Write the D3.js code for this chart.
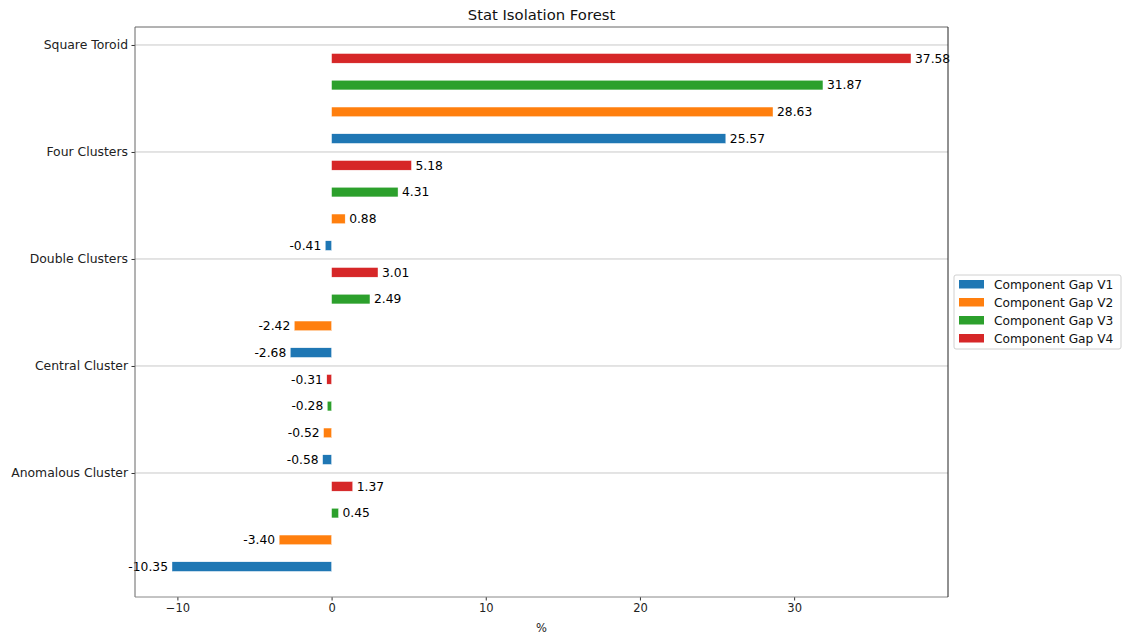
<!DOCTYPE html>
<html><head><meta charset="utf-8">
<script src="https://cdn.jsdelivr.net/npm/d3@7"></script>
<style>body{margin:0;background:#fff;font-family:"DejaVu Sans",sans-serif;}</style>
</head><body><svg id="c" width="1123" height="636"></svg>
<script>
const categories = ["Anomalous Cluster","Central Cluster","Double Clusters","Four Clusters","Square Toroid"];
const seriesNames = ["Component Gap V1","Component Gap V2","Component Gap V3","Component Gap V4"];
const v1 = [-10.35,-0.58,-2.68,-0.41,25.57];
const v2 = [-3.40,-0.52,-2.42,0.88,28.63];
const v3 = [0.45,-0.28,2.49,4.31,31.87];
const v4 = [1.37,-0.31,3.01,5.18,37.58];
const colors = ["#1f77b4","#ff7f0e","#2ca02c","#d62728"];
const xTicks = [-10,0,10,20,30];
const series = [v1,v2,v3,v4];
const offsets = [-0.875,-0.625,-0.375,-0.125];

const svg = d3.select("#c");
const L=135,R=948,T=27,B=597;
const x = d3.scaleLinear().domain([-12.75,39.98]).range([L,R]);
const y = d3.scaleLinear().domain([-1.159,4.168]).range([B,T]);
const barH = 0.09;

// grid
svg.append("g").selectAll("line").data(categories).join("line")
  .attr("x1",L).attr("x2",R).attr("y1",(d,i)=>y(i)).attr("y2",(d,i)=>y(i))
  .attr("stroke","#c8c8c8").attr("stroke-width",1);

// bars
series.forEach((s,k)=>{
  const g = svg.append("g");
  g.selectAll("rect").data(s).join("rect")
    .attr("x",d=>x(Math.min(0,d))).attr("width",d=>Math.abs(x(d)-x(0)))
    .attr("y",(d,i)=>y(i+offsets[k]+barH/2)).attr("height",y(0)-y(barH))
    .attr("fill",colors[k]).attr("stroke","#fff").attr("stroke-width",0.4);
  g.selectAll("text").data(s).join("text")
    .attr("x",d=>d>=0? x(d)+4 : x(d)-4)
    .attr("y",(d,i)=>y(i+offsets[k]))
    .attr("dy","0.35em")
    .attr("text-anchor",d=>d>=0?"start":"end")
    .attr("font-size",12.3).attr("fill","#000")
    .text(d=>d.toFixed(2));
});

// axes
const xa = svg.append("g").attr("transform",`translate(0,${B})`)
  .call(d3.axisBottom(x).tickValues(xTicks).tickSize(3.5).tickPadding(3.5).tickFormat(d=>d<0?"\u2212"+Math.abs(d):d));
xa.select(".domain").remove();
xa.selectAll("line").attr("stroke","#333");
xa.selectAll("text").attr("font-size",11.5).attr("fill","#222").attr("font-family","DejaVu Sans");

const ya = svg.append("g").attr("transform",`translate(${L},0)`)
  .call(d3.axisLeft(y).tickValues(d3.range(categories.length)).tickSize(3.5).tickPadding(3.5).tickFormat(i=>categories[i]));
ya.select(".domain").remove();
ya.selectAll("line").attr("stroke","#333");
ya.selectAll("text").attr("font-size",12.4).attr("fill","#222").attr("font-family","DejaVu Sans");

// spines
svg.append("line").attr("x1",L).attr("x2",R).attr("y1",T).attr("y2",T).attr("stroke","#666");
svg.append("line").attr("x1",L).attr("x2",L).attr("y1",T).attr("y2",B).attr("stroke","#666");
svg.append("line").attr("x1",L).attr("x2",R).attr("y1",B).attr("y2",B).attr("stroke","#888");
svg.append("line").attr("x1",R).attr("x2",R).attr("y1",T).attr("y2",B).attr("stroke","#222");

// title and label
svg.append("text").attr("x",(L+R)/2).attr("y",20).attr("text-anchor","middle")
  .attr("font-size",14.8).attr("fill","#111").text("Stat Isolation Forest");
svg.append("text").attr("x",(L+R)/2).attr("y",632).attr("text-anchor","middle")
  .attr("font-size",11.5).attr("fill","#222").text("%");

// legend
const lg = svg.append("g").attr("transform","translate(954,275)");
lg.append("rect").attr("x",0).attr("y",0).attr("width",167).attr("height",74).attr("rx",2)
  .attr("fill","#fff").attr("stroke","#d0d0d0");
seriesNames.forEach((n,k)=>{
  lg.append("rect").attr("x",5).attr("y",5+k*18).attr("width",25).attr("height",8.5).attr("fill",colors[k]);
  lg.append("text").attr("x",40).attr("y",9.5+k*18).attr("dy","0.35em").attr("font-size",12.2).attr("fill","#111").text(n);
});
</script></body></html>
